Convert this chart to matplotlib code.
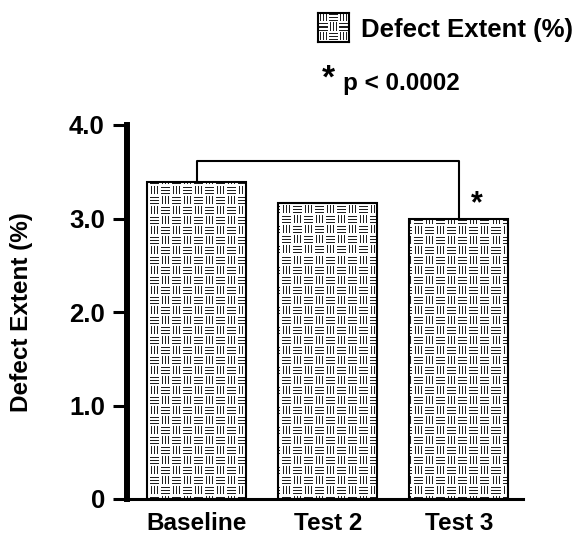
import numpy as np
import matplotlib
matplotlib.use('Agg')
import matplotlib.pyplot as plt

# ---------- 数据 ----------
groups = ['Baseline', 'Test 2', 'Test 3']
defect_extent = [3.39, 3.17, 2.99]
y_ticks = [0, 1.0, 2.0, 3.0, 4.0]
y_tick_labels = ['0', '1.0', '2.0', '3.0', '4.0']
series_label = 'Defect Extent (%)'
sig_label = 'p < 0.0002'
sig_pair = (0, 2)


def weave(h, w, cell_w=11, cell_h=10):
    """basket-weave texture: alternating blocks of vertical / horizontal lines"""
    yy, xx = np.mgrid[0:h, 0:w]
    bi, bj = yy // cell_h, xx // cell_w
    iy, ix = yy % cell_h, xx % cell_w
    vert = (bi + bj) % 2 == 0
    vline = vert & np.isin(ix, [2, 5, 8]) & (iy >= 1) & (iy <= 8)
    hline = ~vert & np.isin(iy, [2, 5, 8]) & (ix >= 1) & (ix <= 9)
    img = np.ones((h, w))
    img[vline | hline] = 0.12
    return img


plt.rcParams['font.family'] = ['Liberation Sans', 'DejaVu Sans']
plt.rcParams['font.weight'] = 'bold'
plt.rcParams['axes.labelweight'] = 'bold'
FS = 17.5

W, H, DPI = 579, 536, 100
fig = plt.figure(figsize=(W / DPI, H / DPI), dpi=DPI)

ax_l, ax_b, ax_w, ax_h = 127 / W, 37 / H, 396 / W, 374 / H
ax = fig.add_axes([ax_l, ax_b, ax_w, ax_h])

x = np.arange(len(groups))
xlim = (-0.534, 2.49)
ax.set_xlim(*xlim)
ax.set_ylim(0, 4.0)

bars = ax.bar(x, defect_extent, width=0.756, facecolor='white',
              edgecolor='none', zorder=1)
tex = weave(int(round(ax_h * H)), int(round(ax_w * W)))
for b in bars:
    im = ax.imshow(tex, cmap='gray', vmin=0, vmax=1, extent=(xlim[0], xlim[1], 0, 4.0),
                   aspect='auto', interpolation='nearest', zorder=2)
    im.set_clip_path(b)
ax.bar(x, defect_extent, width=0.756, fill=False, edgecolor='black',
       linewidth=1.5, zorder=3)

# 显著性括号
i, j = sig_pair
top = 3.61
ax.plot([x[i], x[i], x[j], x[j]], [defect_extent[i], top, top, defect_extent[j]],
        color='black', lw=1.5, zorder=4, clip_on=False)
ax.text(x[j] + 0.14, defect_extent[j] + 0.08, '*', fontsize=22,
        ha='center', va='baseline')

# 坐标轴
for s in ['top', 'right']:
    ax.spines[s].set_visible(False)
ax.spines['left'].set_linewidth(4.3)
ax.spines['bottom'].set_linewidth(2.2)
ax.set_yticks(y_ticks)
ax.set_yticklabels(y_tick_labels, fontsize=18.5, fontweight='bold')
ax.set_xticks(x)
ax.set_xticklabels(groups, fontsize=FS, fontweight='bold')
ax.tick_params(axis='y', length=10, width=2.2, pad=6)
ax.tick_params(axis='x', length=0, pad=9)
ax.set_ylabel(series_label, fontsize=FS, fontweight='bold')
ax.yaxis.set_label_coords(-0.237, 0.5)

# 图例
lax = fig.add_axes([318 / W, 1 - 42 / H, 31 / W, 29 / H])
lax.imshow(weave(29, 31, 10, 9), cmap='gray', vmin=0, vmax=1,
           aspect='auto', interpolation='nearest')
lax.set_xticks([])
lax.set_yticks([])
for s in lax.spines.values():
    s.set_linewidth(1.5)
fig.text(361 / W, 1 - 37 / H, series_label, fontsize=18.5, fontweight='bold',
         va='baseline', ha='left')
fig.text(328 / W, 1 - 88 / H, '*', fontsize=24, fontweight='bold',
         va='baseline', ha='center')
fig.text(343 / W, 1 - 90 / H, sig_label, fontsize=FS, fontweight='bold',
         va='baseline', ha='left')

fig.savefig('out.png', dpi=DPI)
